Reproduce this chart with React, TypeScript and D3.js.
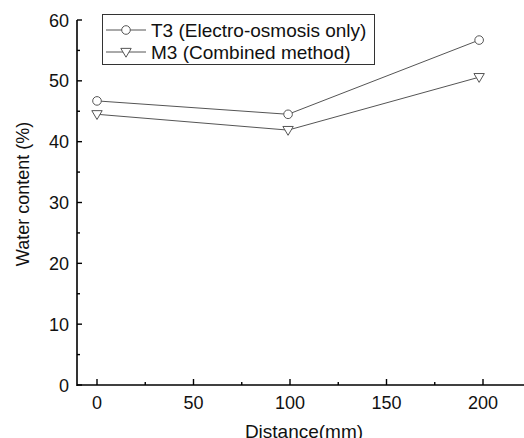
import React from "react";
import * as d3 from "d3";

const distances = [0, 99, 198];
const t3Values = [46.7, 44.5, 56.7];
const m3Values = [44.5, 41.9, 50.6];
const seriesNames = ["T3 (Electro-osmosis only)", "M3 (Combined method)"];
const xMajorTicks = [0, 50, 100, 150, 200];
const xMinorTicks = [25, 75, 125, 175];
const yMajorTicks = [0, 10, 20, 30, 40, 50, 60];
const yMinorTicks = [5, 15, 25, 35, 45, 55];

const W = 524;
const H = 438;
const FONT = "'Liberation Sans', Arial, sans-serif";

export default function App() {
  const x = d3.scaleLinear().domain([0, 200]).range([97, 483]);
  const y = d3.scaleLinear().domain([0, 60]).range([385, 20]);
  const axisLeft = 77;
  const axisRight = 524;
  const line = d3
    .line<[number, number]>()
    .x((d) => x(d[0]))
    .y((d) => y(d[1]));
  const t3Pts = distances.map((d, i) => [d, t3Values[i]] as [number, number]);
  const m3Pts = distances.map((d, i) => [d, m3Values[i]] as [number, number]);
  const lineColor = "#555";
  const tri = (cx: number, cy: number, s: number) =>
    `M${cx - s},${cy - s * 0.7}L${cx + s},${cy - s * 0.7}L${cx},${cy + s * 1.0}Z`;

  return (
    <svg
      width={W}
      height={H}
      style={{ position: "absolute", left: 0, top: 0, background: "#fff" }}
      fontFamily={FONT}
    >
      <rect x={0} y={0} width={W} height={H} fill="#fff" />
      {/* axes */}
      <line x1={axisLeft} x2={axisLeft} y1={y(60)} y2={y(0) + 1} stroke="#000" strokeWidth={1.6} />
      <line x1={axisLeft} x2={axisRight} y1={y(0)} y2={y(0)} stroke="#000" strokeWidth={1.6} />
      {xMajorTicks.map((t) => (
        <g key={"xt" + t}>
          <line x1={x(t)} x2={x(t)} y1={y(0)} y2={y(0) - 6} stroke="#000" strokeWidth={1.4} />
          <text x={x(t)} y={y(0) + 24} textAnchor="middle" fontSize={18} fill="#111">
            {t}
          </text>
        </g>
      ))}
      {xMinorTicks.map((t) => (
        <line key={"xm" + t} x1={x(t)} x2={x(t)} y1={y(0)} y2={y(0) - 3} stroke="#000" strokeWidth={1.4} />
      ))}
      {yMajorTicks.map((t) => (
        <g key={"yt" + t}>
          <line x1={axisLeft} x2={axisLeft + 5} y1={y(t)} y2={y(t)} stroke="#000" strokeWidth={1.4} />
          <text x={axisLeft - 8} y={y(t) + 6.5} textAnchor="end" fontSize={18} fill="#111">
            {t}
          </text>
        </g>
      ))}
      {yMinorTicks.map((t) => (
        <line key={"ym" + t} x1={axisLeft} x2={axisLeft + 3} y1={y(t)} y2={y(t)} stroke="#000" strokeWidth={1.4} />
      ))}
      <text
        transform={`translate(29,194) rotate(-90)`}
        textAnchor="middle"
        fontSize={18}
        fill="#111"
      >
        Water content (%)
      </text>
      <text x={304} y={438} textAnchor="middle" fontSize={19} fill="#111">
        Distance(mm)
      </text>

      {/* lines */}
      <path d={line(t3Pts) || ""} fill="none" stroke={lineColor} strokeWidth={1} />
      <path d={line(m3Pts) || ""} fill="none" stroke={lineColor} strokeWidth={1} />
      {t3Pts.map((p, i) => (
        <circle key={"c" + i} cx={x(p[0])} cy={y(p[1])} r={4.3} fill="#fff" stroke={lineColor} strokeWidth={1} />
      ))}
      {m3Pts.map((p, i) => (
        <path key={"t" + i} d={tri(x(p[0]), y(p[1]), 5.2)} fill="#fff" stroke={lineColor} strokeWidth={1} />
      ))}

      {/* legend */}
      <rect x={102.5} y={14.5} width={272} height={50} fill="#fff" stroke="#333" strokeWidth={1} />
      <line x1={106} x2={146} y1={30} y2={30} stroke={lineColor} strokeWidth={1} />
      <circle cx={126} cy={30} r={4.3} fill="#fff" stroke={lineColor} strokeWidth={1} />
      <text x={151} y={37} fontSize={19} fill="#111">
        {seriesNames[0]}
      </text>
      <line x1={106} x2={146} y1={52} y2={52} stroke={lineColor} strokeWidth={1} />
      <path d={tri(126, 52, 5.2)} fill="#fff" stroke={lineColor} strokeWidth={1} />
      <text x={151} y={59} fontSize={19} fill="#111">
        {seriesNames[1]}
      </text>
    </svg>
  );
}
